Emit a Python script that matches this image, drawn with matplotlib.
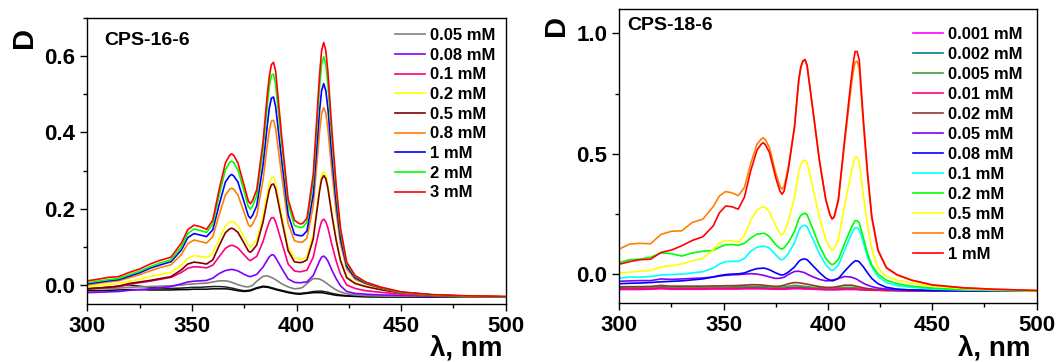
import numpy as np
import matplotlib
matplotlib.use('Agg')
import matplotlib.pyplot as plt
from matplotlib.ticker import MultipleLocator

plt.rcParams['font.family'] = ['Liberation Sans', 'DejaVu Sans']
plt.rcParams['font.weight'] = 'bold'

# shared wavelength grid (nm)
wl = [300, 305, 310, 315, 320, 325, 330, 335, 340, 345,
      348, 351, 354, 357, 360, 363, 366,
      368, 369, 370,
      372, 375,
      377, 378, 379,
      381, 384, 386,
      387, 388, 389, 390,
      393, 396, 399,
      401, 402, 403,
      405, 408, 411,
      412, 413, 414, 415,
      417, 419, 421, 424, 428, 433, 440, 450, 465, 480, 500]

# ---------- CPS-16-6 ----------
labels_16 = ['0.05 mM', '0.08 mM', '0.1 mM', '0.2 mM', '0.5 mM', '0.8 mM', '1 mM', '2 mM', '3 mM']
colors_16 = ['#808080', '#8000ff', '#ff0080', '#ffff00', '#800000', '#ff8000', '#0000ff', '#00ff00', '#ff0000']

d16_005 = [-.010, -.010, -.009, -.008, -.006, -.005, -.004, -.003, -.002, .000,
           .002, .003, .004, .005, .008, .011, .011,
           .009, .007, .005,
           .001, -.004,
           -.005, -.003, -.001,
           .010, .023, .024,
           .022, .020, .017, .014,
           .003, -.005, -.010,
           -.009, -.008, -.006,
           .004, .017, .016,
           .013, .010, .006, .002,
           -.006, -.013, -.018, -.023, -.026, -.028, -.029, -.030, -.030, -.031, -.031]
d16_008 = [-.020, -.019, -.018, -.017, -.014, -.012, -.010, -.007, -.004, .003,
           .008, .010, .011, .012, .018, .030, .038,
           .040, .041, .040,
           .037, .028,
           .023, .022, .024,
           .028, .047, .065,
           .074, .079, .079, .072,
           .043, .016, .007,
           .006, .006, .007,
           .008, .025, .063,
           .073, .076, .071, .063,
           .038, .016, -.002, -.017, -.022, -.024, -.026, -.027, -.029, -.030, -.031]
d16_01 = [-.010, -.008, -.006, -.004, .002, .006, .010, .015, .020, .033,
          .044, .048, .047, .045, .052, .074, .096,
          .103, .104, .103,
          .097, .079,
          .067, .064, .068,
          .075, .114, .150,
          .166, .176, .177, .166,
          .111, .055, .037,
          .035, .035, .036,
          .039, .073, .148,
          .167, .173, .166, .150,
          .104, .062, .029, .000, -.009, -.015, -.019, -.024, -.028, -.030, -.031]
d16_02 = [-.005, -.002, .001, .004, .010, .015, .022, .028, .033, .052,
          .070, .077, .075, .072, .083, .121, .155,
          .165, .167, .165,
          .155, .125,
          .104, .100, .105,
          .119, .180, .239,
          .266, .281, .283, .269,
          .182, .100, .071,
          .069, .068, .069,
          .075, .131, .256,
          .287, .297, .288, .262,
          .187, .121, .068, .022, .006, -.003, -.011, -.021, -.027, -.030, -.031]
d16_05 = [-.010, -.008, -.006, -.003, .004, .008, .012, .017, .022, .040,
          .055, .060, .058, .055, .066, .103, .137,
          .147, .149, .147,
          .138, .109,
          .089, .086, .091,
          .105, .165, .222,
          .249, .263, .265, .252,
          .169, .090, .061,
          .059, .059, .060,
          .066, .121, .246,
          .277, .287, .279, .254,
          .180, .116, .064, .019, .004, -.004, -.012, -.021, -.027, -.030, -.031]
d16_08 = [.000, .004, .008, .011, .019, .027, .037, .046, .053, .080,
          .108, .118, .114, .110, .127, .184, .236,
          .251, .254, .251,
          .236, .190,
          .158, .153, .160,
          .182, .276, .365,
          .406, .430, .432, .411,
          .284, .161, .116,
          .113, .112, .113,
          .123, .208, .401,
          .450, .465, .450, .410,
          .293, .189, .109, .042, .015, .003, -.008, -.020, -.026, -.029, -.031]
d16_1 = [.003, .007, .011, .014, .023, .032, .044, .053, .061, .092,
         .124, .135, .131, .127, .145, .210, .270,
         .286, .290, .286,
         .270, .217,
         .181, .175, .183,
         .208, .315, .417,
         .464, .490, .493, .469,
         .324, .185, .133,
         .130, .129, .130,
         .142, .238, .456,
         .510, .528, .510, .464,
         .331, .215, .123, .049, .019, .005, -.007, -.019, -.026, -.029, -.031]
d16_2 = [.006, .010, .014, .017, .027, .036, .048, .058, .066, .100,
         .135, .147, .143, .138, .160, .235, .302,
         .321, .325, .321,
         .302, .245,
         .205, .199, .207,
         .235, .355, .468,
         .521, .550, .553, .527,
         .366, .213, .156,
         .152, .151, .152,
         .165, .273, .518,
         .579, .599, .579, .527,
         .376, .244, .141, .056, .023, .007, -.006, -.019, -.026, -.029, -.031]
d16_3 = [.011, .015, .020, .022, .033, .042, .055, .065, .073, .110,
         .145, .157, .153, .146, .170, .250, .320,
         .340, .344, .340,
         .320, .260,
         .220, .213, .222,
         .250, .375, .497,
         .547, .578, .584, .562,
         .385, .225, .170,
         .162, .160, .162,
         .175, .290, .550,
         .615, .636, .615, .560,
         .400, .260, .150, .060, .025, .008, -.005, -.018, -.025, -.028, -.030]
# unlabelled dark traces along the bottom of the CPS-16-6 panel
d16_low_a = [-.010, -.008, -.006, -.003, .000, -.003, -.006, -.008, -.009, -.008,
             -.007, -.006, -.006, -.005, -.004, -.004, -.005,
             -.007, -.008, -.009,
             -.012, -.015,
             -.014, -.013, -.011,
             -.007, -.003, -.004,
             -.005, -.007, -.008, -.010,
             -.014, -.018, -.021,
             -.022, -.022, -.021,
             -.020, -.017, -.016,
             -.016, -.017, -.018, -.019,
             -.022, -.024, -.026, -.028, -.029, -.030, -.031, -.031, -.032, -.032, -.032]
d16_low_b = [-.015, -.015, -.014, -.013, -.012, -.012, -.013, -.013, -.013, -.012,
             -.012, -.011, -.011, -.011, -.010, -.010, -.010,
             -.011, -.012, -.013,
             -.015, -.017,
             -.016, -.015, -.013,
             -.009, -.005, -.006,
             -.007, -.009, -.010, -.012,
             -.016, -.020, -.023,
             -.024, -.024, -.023,
             -.022, -.020, -.020,
             -.020, -.021, -.022, -.023,
             -.025, -.027, -.028, -.029, -.030, -.031, -.031, -.032, -.032, -.032, -.032]
series_16 = [d16_005, d16_008, d16_01, d16_02, d16_05, d16_08, d16_1, d16_2, d16_3]

# ---------- CPS-18-6 ----------
labels_18 = ['0.001 mM', '0.002 mM', '0.005 mM', '0.01 mM', '0.02 mM', '0.05 mM', '0.08 mM', '0.1 mM', '0.2 mM',
             '0.5 mM', '0.8 mM', '1 mM']
colors_18 = ['#ff00ff', '#008080', '#3c9c3c', '#ff0080', '#993333', '#8000ff', '#0000ff', '#00ffff', '#00ff00',
             '#ffff00', '#ff8000', '#ff0000']

d18_0001 = [-.064, -.064, -.064, -.063, -.061, -.063, -.063, -.063, -.063, -.062,
            -.062, -.062, -.062, -.062, -.061, -.061, -.061,
            -.061, -.061, -.061,
            -.062, -.063,
            -.063, -.063, -.063,
            -.062, -.061, -.061,
            -.061, -.062, -.062, -.062,
            -.063, -.064, -.065,
            -.065, -.065, -.065,
            -.065, -.064, -.064,
            -.064, -.064, -.064, -.065,
            -.066, -.066, -.067, -.067, -.068, -.068, -.069, -.069, -.070, -.070, -.070]
d18_0002 = [-.060, -.060, -.060, -.059, -.056, -.059, -.059, -.059, -.058, -.058,
            -.058, -.058, -.057, -.057, -.057, -.056, -.056,
            -.056, -.057, -.057,
            -.058, -.059,
            -.059, -.058, -.058,
            -.056, -.054, -.054,
            -.054, -.055, -.055, -.056,
            -.058, -.060, -.061,
            -.061, -.061, -.061,
            -.060, -.059, -.059,
            -.059, -.060, -.060, -.061,
            -.063, -.064, -.065, -.066, -.067, -.068, -.069, -.069, -.070, -.070, -.070]
d18_0005 = [-.057, -.057, -.056, -.056, -.052, -.055, -.055, -.055, -.055, -.054,
            -.054, -.054, -.053, -.053, -.052, -.051, -.051,
            -.051, -.052, -.052,
            -.054, -.055,
            -.055, -.054, -.053,
            -.050, -.047, -.048,
            -.049, -.050, -.051, -.052,
            -.055, -.057, -.059,
            -.059, -.059, -.058,
            -.057, -.055, -.055,
            -.055, -.056, -.058, -.059,
            -.061, -.063, -.065, -.066, -.067, -.068, -.069, -.069, -.070, -.070, -.070]
d18_001 = [-.062, -.062, -.062, -.061, -.058, -.061, -.061, -.061, -.061, -.060,
           -.060, -.060, -.060, -.060, -.059, -.059, -.059,
           -.059, -.060, -.060,
           -.061, -.062,
           -.062, -.061, -.061,
           -.059, -.057, -.058,
           -.058, -.059, -.059, -.060,
           -.061, -.063, -.064,
           -.064, -.064, -.064,
           -.063, -.062, -.062,
           -.062, -.063, -.063, -.064,
           -.065, -.066, -.067, -.067, -.068, -.068, -.069, -.069, -.070, -.070, -.070]
d18_002 = [-.053, -.052, -.052, -.051, -.047, -.050, -.050, -.050, -.050, -.049,
           -.049, -.048, -.048, -.047, -.046, -.044, -.044,
           -.045, -.046, -.047,
           -.049, -.051,
           -.050, -.048, -.046,
           -.040, -.035, -.036,
           -.037, -.039, -.040, -.042,
           -.047, -.052, -.055,
           -.055, -.055, -.054,
           -.051, -.046, -.046,
           -.047, -.049, -.051, -.053,
           -.057, -.060, -.062, -.064, -.066, -.067, -.068, -.069, -.069, -.070, -.070]
d18_005 = [-.030, -.028, -.027, -.027, -.020, -.022, -.020, -.018, -.016, -.012,
           -.008, -.005, -.003, -.002, .000, .002, .000,
           -.003, -.005, -.007,
           -.012, -.018,
           -.017, -.015, -.013,
           -.002, .011, .012,
           .010, .008, .005, .000,
           -.012, -.022, -.028,
           -.027, -.025, -.023,
           -.018, -.010, -.012,
           -.015, -.018, -.022, -.028,
           -.038, -.046, -.052, -.058, -.062, -.065, -.067, -.068, -.069, -.070, -.070]
d18_008 = [-.040, -.038, -.037, -.035, -.032, -.030, -.028, -.024, -.020, -.012,
           -.006, -.002, .000, .001, .005, .015, .023,
           .024, .025, .024,
           .018, .005,
           -.002, -.004, -.002,
           .008, .030, .052,
           .059, .062, .063, .060,
           .033, .006, -.017,
           -.025, -.028, -.026,
           -.018, .012, .040,
           .048, .055, .055, .051,
           .030, .005, -.018, -.040, -.055, -.062, -.066, -.068, -.069, -.070, -.070]
d18_01 = [-.017, -.012, -.013, -.010, -.004, -.002, .000, .005, .010, .025,
          .042, .052, .053, .053, .065, .095, .112,
          .115, .117, .115,
          .108, .080,
          .062, .059, .065,
          .085, .131, .180,
          .195, .201, .203, .197,
          .141, .083, .038,
          .020, .015, .020,
          .036, .100, .161,
          .179, .193, .193, .184,
          .130, .070, .030, -.010, -.035, -.048, -.055, -.062, -.066, -.068, -.070]
d18_02 = [.048, .060, .062, .070, .088, .085, .075, .088, .095, .098,
          .112, .122, .123, .120, .128, .150, .166,
          .168, .170, .168,
          .155, .122,
          .107, .104, .110,
          .131, .178, .229,
          .244, .250, .253, .247,
          .182, .116, .065,
          .045, .039, .044,
          .061, .127, .189,
          .207, .222, .222, .213,
          .150, .085, .038, .000, -.025, -.040, -.050, -.058, -.064, -.067, -.070]
d18_05 = [.004, .008, .012, .015, .030, .035, .042, .055, .066, .100,
          .130, .140, .138, .133, .160, .225, .268,
          .277, .280, .277,
          .258, .200,
          .170, .163, .172,
          .219, .320, .424,
          .455, .470, .474, .464,
          .350, .233, .143,
          .110, .098, .106,
          .144, .284, .415,
          .454, .485, .485, .466,
          .324, .202, .103, .025, -.010, -.025, -.037, -.050, -.060, -.065, -.069]
d18_08 = [.104, .125, .128, .126, .165, .178, .180, .215, .228, .280,
          .325, .343, .338, .326, .360, .460, .540,
          .561, .567, .559,
          .525, .420,
          .365, .353, .365,
          .445, .615, .805,
          .858, .884, .890, .866,
          .668, .467, .308,
          .246, .229, .238,
          .305, .545, .770,
          .835, .880, .885, .855,
          .620, .405, .232, .097, .025, -.003, -.025, -.045, -.057, -.063, -.068]
d18_1 = [.041, .052, .060, .062, .090, .100, .118, .140, .155, .200,
         .255, .283, .280, .270, .320, .430, .515,
         .540, .546, .538,
         .505, .400,
         .345, .332, .345,
         .433, .612, .806,
         .861, .886, .892, .868,
         .668, .467, .308,
         .246, .229, .238,
         .310, .560, .800,
         .870, .925, .925, .890,
         .640, .420, .240, .100, .027, -.002, -.025, -.045, -.057, -.063, -.068]
series_18 = [d18_0001, d18_0002, d18_0005, d18_001, d18_002, d18_005, d18_008, d18_01, d18_02, d18_05, d18_08, d18_1]

fig = plt.figure(figsize=(10.58, 3.62), dpi=100)
ax1 = fig.add_axes([0.0825, 0.160, 0.3955, 0.790])
ax2 = fig.add_axes([0.5853, 0.163, 0.3945, 0.811])

ax1.plot(wl, d16_low_a, color='#202020', lw=1.1)
ax1.plot(wl, d16_low_b, color='#000000', lw=1.1)
for y, c, lab in zip(series_16, colors_16, labels_16):
    ax1.plot(wl, y, color=c, lw=1.2, label=lab)
for y, c, lab in zip(series_18, colors_18, labels_18):
    ax2.plot(wl, y, color=c, lw=1.2, label=lab)

for ax, ylim, major in [(ax1, (-0.05, 0.70), 0.2), (ax2, (-0.12, 1.10), 0.5)]:
    ax.set_xlim(300, 500)
    ax.set_ylim(*ylim)
    ax.xaxis.set_major_locator(MultipleLocator(50))
    ax.xaxis.set_minor_locator(MultipleLocator(25))
    ax.yaxis.set_major_locator(MultipleLocator(major))
    ax.yaxis.set_minor_locator(MultipleLocator(major / 2))
    ax.tick_params(which='both', direction='out', top=False, right=False, labelsize=16, width=1)
    ax.tick_params(which='major', length=5)
    ax.tick_params(which='minor', length=3)
    for lbl in ax.get_xticklabels() + ax.get_yticklabels():
        lbl.set_fontweight('bold')
    for s in ax.spines.values():
        s.set_linewidth(1)

ax1.legend(loc='upper right', bbox_to_anchor=(1.0, 1.0), frameon=False, fontsize=12,
           handlelength=1.8, handletextpad=0.3, labelspacing=0.28, borderaxespad=0.2)
ax2.legend(loc='upper right', bbox_to_anchor=(0.99, 0.975), frameon=False, fontsize=12,
           handlelength=1.8, handletextpad=0.3, labelspacing=0.3, borderaxespad=0.2)

ax1.text(0.04, 0.92, 'CPS-16-6', transform=ax1.transAxes, fontsize=14, fontweight='bold', va='center')
ax2.text(0.02, 0.945, 'CPS-18-6', transform=ax2.transAxes, fontsize=14, fontweight='bold', va='center')

fig.text(24 / 1058, 1 - 37 / 362, 'D', rotation=90, fontsize=21, fontweight='bold', ha='center', va='center')
fig.text(556 / 1058, 1 - 25 / 362, 'D', rotation=90, fontsize=21, fontweight='bold', ha='center', va='center')
fig.text(502 / 1058, 1 - 355 / 362, 'λ, nm', fontsize=20, fontweight='bold', ha='right', va='baseline')
fig.text(1030 / 1058, 1 - 355 / 362, 'λ, nm', fontsize=20, fontweight='bold', ha='right', va='baseline')

fig.savefig('out.png', dpi=100)
